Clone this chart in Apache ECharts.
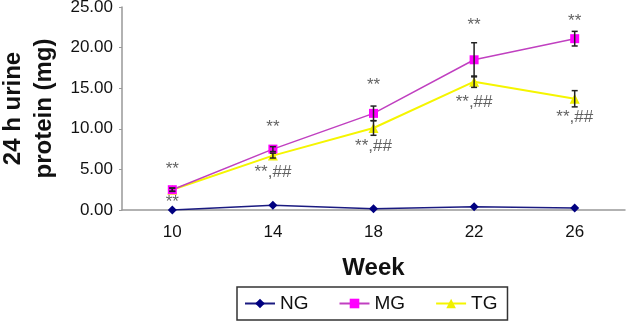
<!DOCTYPE html>
<html>
<head>
<meta charset="utf-8">
<script src="https://cdn.jsdelivr.net/npm/echarts@6/dist/echarts.min.js"></script>
<style>
    html, body { margin: 0; padding: 0; background: #fff; }
    #chart { width: 627px; height: 322px; }
</style>
</head>
<body>
<div id="chart"></div>
<script>
var weeks = ['10', '14', '18', '22', '26'];
var yTicks = [0, 5, 10, 15, 20, 25];

var ngData = [0.0, 0.6, 0.15, 0.4, 0.25];
var mgData = [2.5, 7.5, 11.9, 18.5, 21.1];
var tgData = [2.5, 6.7, 10.1, 15.8, 13.7];

var mgErr = [0.2, 0.3, 0.9, 2.1, 0.9];
var tgErr = [0.2, 0.3, 0.9, 0.7, 1.0];

// significance marks, y in data units
var aboveText = ['**', '**', '**', '**', '**'];
var aboveY = [4.95, 10.2, 15.3, 22.7, 23.2];
var belowText = ['**', '**,##', '**,##', '**,##', '**,##'];
var belowY = [1.0, 4.6, 7.8, 13.3, 11.4];

var FONT = '"Liberation Sans", Arial, sans-serif';

function errorBars(values, errs) {
    var out = [];
    for (var i = 0; i < values.length; i++) {
        out.push([i, values[i] - errs[i], values[i] + errs[i]]);
    }
    return out;
}

function renderErr(params, api) {
    var lo = api.coord([api.value(0), api.value(1)]);
    var hi = api.coord([api.value(0), api.value(2)]);
    var cap = 3;
    var st = { stroke: '#222', lineWidth: 1.5 };
    return {
        type: 'group',
        children: [
            { type: 'line', shape: { x1: hi[0], y1: hi[1], x2: lo[0], y2: lo[1] }, style: st },
            { type: 'line', shape: { x1: hi[0] - cap, y1: hi[1], x2: hi[0] + cap, y2: hi[1] }, style: st },
            { type: 'line', shape: { x1: lo[0] - cap, y1: lo[1], x2: lo[0] + cap, y2: lo[1] }, style: st }
        ]
    };
}

function marks(ys, texts) {
    var out = [];
    for (var i = 0; i < ys.length; i++) {
        out.push({ value: [i, ys[i]], txt: texts[i] });
    }
    return out;
}

var markLabel = {
    show: true,
    position: 'inside',
    fontFamily: FONT,
    fontSize: 17,
    color: '#3a3a3a',
    formatter: function (p) { return p.data.txt; }
};

var myChart = echarts.init(document.getElementById('chart'), null, { renderer: 'canvas' });

var option = {
    animation: false,
    backgroundColor: '#fff',
    grid: { left: 122, right: 2, top: 7, bottom: 112, containLabel: false, outerBoundsMode: 'none' },
    legend: {
        data: ['NG', 'MG', 'TG'],
        left: 237,
        top: 287,
        orient: 'horizontal',
        itemWidth: 30,
        itemHeight: 12,
        itemGap: 30,
        padding: [7, 10, 7, 7],
        borderColor: '#333',
        borderWidth: 1.5,
        borderRadius: 0,
        textStyle: { fontFamily: FONT, fontSize: 19, color: '#111' }
    },
    xAxis: {
        type: 'category',
        data: weeks,
        boundaryGap: true,
        name: 'Week',
        nameLocation: 'middle',
        nameGap: 46,
        nameTextStyle: { fontFamily: FONT, fontSize: 24, fontWeight: 'bold', color: '#111' },
        axisLine: { lineStyle: { color: '#999', width: 1.5 } },
        axisTick: { inside: true, length: 4, lineStyle: { color: '#999' } },
        axisLabel: { fontFamily: FONT, fontSize: 17, color: '#111', margin: 14 },
        splitLine: { show: false }
    },
    yAxis: {
        type: 'value',
        min: yTicks[0],
        max: yTicks[yTicks.length - 1],
        interval: 5,
        name: '24 h urine\nprotein (mg)',
        nameLocation: 'middle',
        nameGap: 60,
        nameTextStyle: { fontFamily: FONT, fontSize: 24, fontWeight: 'bold', color: '#111', lineHeight: 31 },
        axisLine: { show: true, lineStyle: { color: '#999', width: 1.5 } },
        axisTick: { show: true, length: 3, lineStyle: { color: '#999' } },
        axisLabel: {
            fontFamily: FONT, fontSize: 17, color: '#111', margin: 9,
            formatter: function (v) { return v.toFixed(2); }
        },
        splitLine: { show: false }
    },
    series: [
        {
            name: 'NG',
            type: 'line',
            data: ngData,
            symbol: 'diamond',
            symbolSize: 9,
            color: '#000080',
            lineStyle: { color: '#1a1a80', width: 1.5 },
            itemStyle: { color: '#000080' },
            z: 3
        },
        {
            name: 'MG',
            type: 'line',
            data: mgData,
            symbol: 'rect',
            symbolSize: 9,
            color: '#ff00ff',
            lineStyle: { color: '#c040c0', width: 1.5 },
            itemStyle: { color: '#ff00ff' },
            z: 4
        },
        {
            name: 'TG',
            type: 'line',
            data: tgData,
            symbol: 'triangle',
            symbolSize: 10,
            color: '#ffff00',
            lineStyle: { color: '#f5f500', width: 2 },
            itemStyle: { color: '#f0f000' },
            z: 3
        },
        {
            type: 'custom',
            renderItem: renderErr,
            data: errorBars(mgData, mgErr),
            encode: { x: 0, y: [1, 2] },
            z: 5,
            silent: true
        },
        {
            type: 'custom',
            renderItem: renderErr,
            data: errorBars(tgData, tgErr),
            encode: { x: 0, y: [1, 2] },
            z: 5,
            silent: true
        },
        {
            type: 'scatter',
            data: marks(aboveY, aboveText),
            symbolSize: 0,
            label: markLabel,
            z: 6,
            silent: true
        },
        {
            type: 'scatter',
            data: marks(belowY, belowText),
            symbolSize: 0,
            label: markLabel,
            z: 6,
            silent: true
        }
    ]
};

myChart.setOption(option);
window.addEventListener('resize', function () {
    myChart.resize();
});
</script>
</body>
</html>
